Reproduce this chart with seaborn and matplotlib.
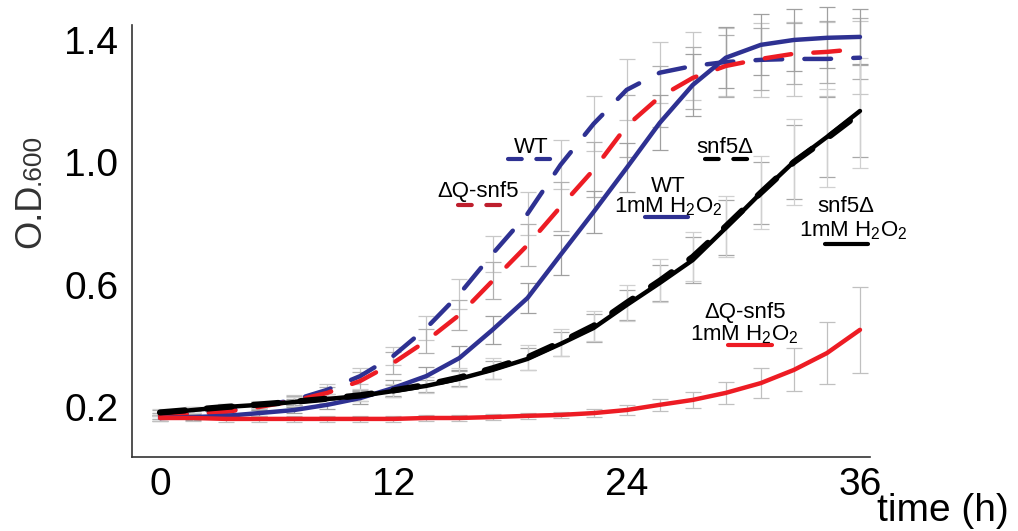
import numpy as np
import pandas as pd
import matplotlib
matplotlib.use("Agg")
import matplotlib.pyplot as plt
import seaborn as sns

# sampling times (h)
time_h = [0, 1.7, 3.4, 5.1, 6.9, 8.6, 10.3, 12.0, 13.7, 15.4, 17.1,
          18.9, 20.6, 22.3, 24.0, 25.7, 27.4, 29.1, 30.9, 32.6, 34.3, 36.0]

# O.D.600 per strain / condition
wt = [0.171, 0.180, 0.187, 0.203, 0.223, 0.256, 0.301, 0.367, 0.458, 0.569, 0.700,
      0.831, 0.991, 1.125, 1.236, 1.292, 1.314, 1.327, 1.334, 1.337, 1.337, 1.341]
dq = [0.171, 0.177, 0.184, 0.200, 0.220, 0.246, 0.285, 0.344, 0.416, 0.501, 0.612,
      0.729, 0.854, 0.975, 1.118, 1.213, 1.275, 1.314, 1.337, 1.354, 1.360, 1.370]
wt_h2o2 = [0.164, 0.167, 0.171, 0.180, 0.190, 0.207, 0.229, 0.262, 0.301, 0.360, 0.452,
           0.556, 0.697, 0.837, 0.981, 1.128, 1.252, 1.341, 1.383, 1.399, 1.406, 1.409]
snf5 = [0.182, 0.191, 0.200, 0.208, 0.217, 0.227, 0.238, 0.254, 0.272, 0.296, 0.326,
        0.362, 0.411, 0.465, 0.540, 0.612, 0.690, 0.790, 0.900, 1.000, 1.078, 1.160]
snf5_h2o2 = [0.180, 0.190, 0.200, 0.207, 0.216, 0.226, 0.236, 0.252, 0.269, 0.292, 0.321,
             0.357, 0.406, 0.458, 0.533, 0.605, 0.680, 0.785, 0.899, 1.001, 1.082, 1.167]
dq_h2o2 = [0.164, 0.164, 0.161, 0.161, 0.161, 0.161, 0.161, 0.161, 0.164, 0.164, 0.167,
           0.171, 0.174, 0.180, 0.190, 0.207, 0.223, 0.246, 0.278, 0.321, 0.376, 0.452]

# standard deviations
wt_err = [0.01, 0.01, 0.01, 0.01, 0.015, 0.02, 0.025, 0.03, 0.04, 0.05, 0.06,
          0.07, 0.08, 0.09, 0.1, 0.1, 0.11, 0.11, 0.12, 0.12, 0.12, 0.12]
dq_err = [0.01, 0.01, 0.01, 0.01, 0.015, 0.02, 0.03, 0.035, 0.04, 0.05, 0.06,
          0.07, 0.08, 0.09, 0.1, 0.1, 0.1, 0.1, 0.1, 0.1, 0.1, 0.1]
wt_h2o2_err = [0.01, 0.01, 0.01, 0.01, 0.01, 0.015, 0.02, 0.025, 0.03, 0.04, 0.045,
               0.05, 0.065, 0.07, 0.08, 0.09, 0.1, 0.1, 0.1, 0.1, 0.1, 0.09]
snf5_err = [0.01, 0.01, 0.01, 0.01, 0.015, 0.015, 0.02, 0.02, 0.025, 0.03, 0.035,
            0.04, 0.045, 0.05, 0.06, 0.07, 0.08, 0.1, 0.12, 0.14, 0.16, 0.18]
snf5_h2o2_err = [0.01, 0.01, 0.01, 0.01, 0.01, 0.015, 0.015, 0.02, 0.02, 0.025, 0.03,
                 0.035, 0.04, 0.045, 0.05, 0.06, 0.075, 0.09, 0.1, 0.12, 0.13, 0.15]
dq_h2o2_err = [0.01, 0.01, 0.01, 0.01, 0.01, 0.01, 0.01, 0.01, 0.01, 0.01, 0.01,
               0.01, 0.01, 0.012, 0.015, 0.02, 0.025, 0.035, 0.05, 0.07, 0.1, 0.14]

BLUE = "#2e3192"
RED = "#ed1c24"
DARKRED = "#be1e2d"
BLACK = "#000000"

sns.set_theme(style="white")
plt.rcParams["font.family"] = ["Liberation Sans", "DejaVu Sans"]
plt.rcParams["text.color"] = "black"
plt.rcParams["mathtext.fontset"] = "custom"
plt.rcParams["mathtext.rm"] = "Liberation Sans"
plt.rcParams["mathtext.it"] = "Liberation Sans:italic"

fig = plt.figure(figsize=(10.18, 5.31), dpi=100)
ax = fig.add_axes([0.1297, 0.1394, 0.725, 0.8136])

series = [
    (wt, wt_err, BLUE, "dash", "#c8c8c8"),
    (dq, dq_err, RED, "dash", "#b0b0b0"),
    (wt_h2o2, wt_h2o2_err, BLUE, "solid", "#a0a0a0"),
    (snf5_h2o2, snf5_h2o2_err, BLACK, "solid", "#a8a8a8"),
    (snf5, snf5_err, BLACK, "dash", "#d0d0d0"),
    (dq_h2o2, dq_h2o2_err, RED, "solid", "#c0c0c0"),
]

# error bars first, underneath
for vals, err, col, ls, ecol in series:
    ax.errorbar(time_h, vals, yerr=err, fmt="none", ecolor=ecol, elinewidth=0.9,
                capsize=6, capthick=0.9, zorder=1, clip_on=False)

for vals, err, col, ls, ecol in series:
    df = pd.DataFrame({"t": time_h, "od": vals})
    if ls == "dash":
        lw = 4.5 if col == BLACK else 3.2
        style = (0, (6.0, 5.0)) if col != BLACK else (0, (4.0, 3.5))
    else:
        lw = 3.2
        style = "-"
    sns.lineplot(data=df, x="t", y="od", ax=ax, color=col, linewidth=lw,
                 linestyle=style, errorbar=None, dash_capstyle="round",
                 solid_capstyle="round", zorder=3)

ax.set_xlim(-1.44, 36.52)
ax.set_ylim(0.0366, 1.448)
ax.set_xticks([0, 12, 24, 36])
ax.set_xticklabels(["0", "12", "24", "36"])
ax.set_yticks([0.2, 0.6, 1.0, 1.4])
ax.set_yticklabels(["0.2", "0.6", "1.0", "1.4"])
ax.tick_params(axis="both", length=0, labelsize=28, labelcolor="black")
ax.tick_params(axis="y", pad=10)
ax.tick_params(axis="x", pad=7)
ax.set_xlabel("")
ax.set_ylabel("")
sns.despine(ax=ax)
for side in ["left", "bottom"]:
    ax.spines[side].set_color("#333333")
    ax.spines[side].set_linewidth(1.2)

# inline labels
fs = 16
h2o2 = r"1mM H$_2$O$_2$"
ax.text(19.08, 1.030, "WT", fontsize=fs, ha="center", va="baseline")
ax.text(16.35, 0.886, "\u0394Q-snf5", fontsize=fs, ha="center", va="baseline")
ax.text(26.13, 0.903, "WT", fontsize=fs, ha="center", va="baseline")
ax.text(26.13, 0.837, h2o2, fontsize=fs, ha="center", va="baseline")
ax.text(29.06, 1.030, "snf5\u0394", fontsize=fs, ha="center", va="baseline")
ax.text(35.28, 0.837, "snf5\u0394", fontsize=fs, ha="center", va="baseline")
ax.text(35.64, 0.756, h2o2, fontsize=fs, ha="center", va="baseline")
ax.text(30.09, 0.491, "\u0394Q-snf5", fontsize=fs, ha="center", va="baseline")
ax.text(30.03, 0.419, h2o2, fontsize=fs, ha="center", va="baseline")

sample_dash = (0, (3.3, 3.5))
ax.plot([17.9, 20.21], [1.010, 1.010], color=BLUE, lw=3, linestyle=sample_dash,
        dash_capstyle="round", clip_on=False)
ax.plot([15.33, 17.64], [0.860, 0.860], color=DARKRED, lw=3, linestyle=sample_dash,
        dash_capstyle="round", clip_on=False)
ax.plot([28.03, 30.24], [1.010, 1.010], color=BLACK, lw=3, linestyle=sample_dash,
        dash_capstyle="round", clip_on=False)
ax.plot([24.94, 27.15], [0.821, 0.821], color=BLUE, lw=3, solid_capstyle="round",
        clip_on=False)
ax.plot([34.2, 36.41], [0.733, 0.733], color=BLACK, lw=3, solid_capstyle="round",
        clip_on=False)
ax.plot([29.21, 31.47], [0.403, 0.403], color=RED, lw=3, solid_capstyle="round",
        clip_on=False)

# axis titles
fig.text(40 / 1018, 1 - 248 / 531, "O.D", rotation=90, rotation_mode="anchor",
         ha="left", va="baseline", fontsize=26, color="#333333")
fig.text(40 / 1018, 1 - 185 / 531, ".600", rotation=90, rotation_mode="anchor",
         ha="left", va="baseline", fontsize=19, color="#333333")
fig.text(877 / 1018, 10 / 531, "time (h)", ha="left", va="baseline", fontsize=28)

fig.savefig("out.png", dpi=100)
